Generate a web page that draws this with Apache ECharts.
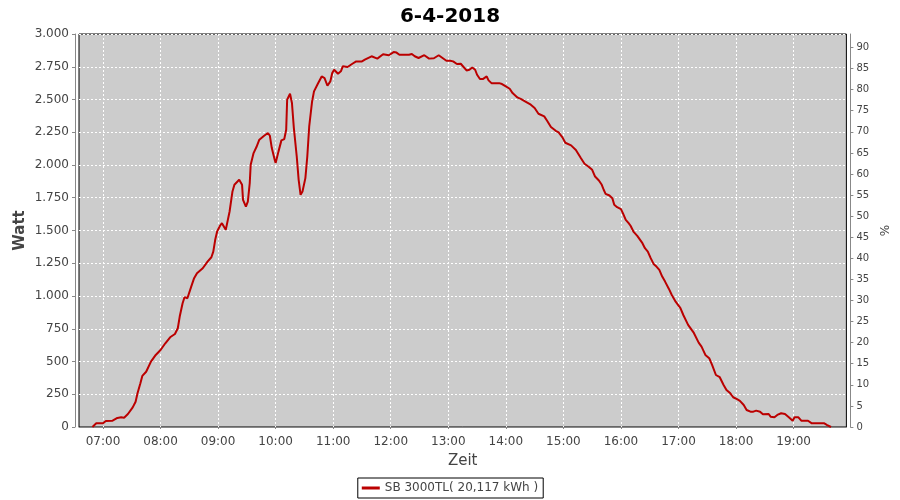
<!DOCTYPE html>
<html>
<head>
<meta charset="utf-8">
<script src="https://cdn.jsdelivr.net/npm/echarts@6/dist/echarts.min.js"></script>
<style>
html,body{margin:0;padding:0;background:#fff;}
#chart{width:900px;height:500px;}
</style>
</head>
<body>
<div id="chart"></div>
<script>
const title = '6-4-2018';
const seriesName = 'SB 3000TL( 20,117 kWh )';
const times = ['06:49','06:53','07:00','07:03','07:10','07:15','07:19','07:22','07:26','07:31','07:34','07:36','07:39','07:41','07:45','07:50','07:55','08:00','08:05','08:10','08:15','08:18','08:20','08:23','08:25','08:28','08:30','08:32','08:35','08:38','08:44','08:49','08:53','08:55','08:57','08:59','09:02','09:04','09:08','09:10','09:12','09:15','09:17','09:19','09:22','09:25','09:26','09:29','09:31','09:33','09:34','09:37','09:40','09:43','09:48','09:52','09:54','09:56','09:59','10:00','10:03','10:06','10:09','10:11','10:12','10:15','10:17','10:19','10:22','10:24','10:26','10:28','10:31','10:33','10:35','10:38','10:40','10:44','10:48','10:51','10:54','10:57','10:59','11:01','11:05','11:08','11:10','11:15','11:20','11:24','11:30','11:33','11:40','11:46','11:52','11:58','12:03','12:06','12:09','12:19','12:22','12:25','12:29','12:35','12:40','12:45','12:50','12:54','12:58','13:02','13:05','13:09','13:13','13:15','13:19','13:22','13:25','13:28','13:30','13:33','13:36','13:40','13:42','13:45','13:53','13:56','14:00','14:04','14:07','14:12','14:16','14:20','14:26','14:30','14:34','14:40','14:43','14:47','14:52','14:55','14:59','15:02','15:08','15:13','15:18','15:22','15:26','15:30','15:33','15:37','15:40','15:42','15:44','15:48','15:51','15:53','15:56','16:00','16:02','16:05','16:08','16:10','16:13','16:17','16:19','16:22','16:25','16:28','16:31','16:34','16:37','16:40','16:43','16:46','16:50','16:53','16:57','16:59','17:02','17:05','17:10','17:16','17:21','17:24','17:28','17:32','17:35','17:39','17:43','17:47','17:50','17:54','17:57','18:01','18:04','18:08','18:11','18:15','18:18','18:21','18:25','18:28','18:34','18:36','18:40','18:43','18:47','18:51','18:55','18:59','19:01','19:05','19:08','19:15','19:19','19:32','19:35','19:39'];
const watts = [0,28,28,46,48,69,74,71,99,150,193,257,334,390,422,499,550,588,639,685,710,754,843,945,991,983,991,1072,1136,1174,1212,1263,1296,1339,1429,1492,1536,1556,1505,1518,1645,1798,1849,1857,1887,1849,1734,1683,1721,1862,2002,2091,2137,2193,2223,2244,2223,2129,2040,2015,2104,2188,2198,2269,2498,2544,2473,2282,2065,1887,1772,1798,1900,2065,2294,2485,2562,2620,2676,2663,2605,2638,2702,2727,2697,2715,2753,2748,2773,2791,2791,2804,2830,2812,2845,2838,2862,2858,2842,2842,2847,2830,2817,2838,2812,2815,2838,2817,2796,2796,2791,2771,2773,2758,2722,2727,2745,2727,2689,2656,2656,2676,2646,2625,2625,2618,2600,2582,2549,2516,2503,2485,2460,2435,2391,2371,2338,2290,2261,2249,2211,2170,2150,2115,2055,2010,1989,1963,1912,1882,1849,1811,1780,1767,1747,1696,1678,1663,1633,1581,1556,1536,1492,1459,1446,1408,1365,1339,1289,1245,1225,1199,1148,1110,1054,1008,957,945,907,855,780,718,644,613,550,525,474,397,380,321,283,257,227,212,199,168,130,117,117,125,117,97,99,79,74,92,105,99,74,48,74,74,48,48,28,28,15,0];
const xTickLabels = ['07:00','08:00','09:00','10:00','11:00','12:00','13:00','14:00','15:00','16:00','17:00','18:00','19:00'];
const xRange = ['06:35','19:55'];
const leftTicks = [0,250,500,750,1000,1250,1500,1750,2000,2250,2500,2750,3000];
const rightTicks = [0,5,10,15,20,25,30,35,40,45,50,55,60,65,70,75,80,85,90];
const rightMax = 93.2;

function toMin(s){const p=s.split(':');return (+p[0])*60+(+p[1]);}
function fmtTime(m){const h=Math.floor(m/60),mm=Math.round(m%60);return (h<10?'0':'')+h+':'+(mm<10?'0':'')+mm;}
function fmtDe(v){return String(Math.round(v)).replace(/\B(?=(\d{3})+(?!\d))/g,'.');}

const data = times.map((t,i)=>[toMin(t),watts[i]]);
const xTicks = xTickLabels.map(toMin);
const font = 'DejaVu Sans';
const chart = echarts.init(document.getElementById('chart'));
chart.setOption({
  animation:false,
  backgroundColor:'#ffffff',
  textStyle:{fontFamily:font},
  title:{text:title,left:'center',top:2,textStyle:{fontFamily:font,fontSize:20,fontWeight:'bold',color:'#000'}},
  grid:{left:79,right:52,top:34,bottom:73,show:true,backgroundColor:'#cccccc',borderColor:'#000',borderWidth:1},
  legend:{bottom:2,left:'center',data:[seriesName],borderColor:'#000',borderWidth:1,borderRadius:0,padding:[4,5,4,4],
    itemWidth:18,itemHeight:3,itemGap:4,icon:'rect',
    textStyle:{fontFamily:font,fontSize:12,color:'#444'}},
  xAxis:{type:'value',min:toMin(xRange[0]),max:toMin(xRange[1]),offset:4,
    name:'Zeit',nameLocation:'middle',nameGap:23,nameTextStyle:{fontFamily:font,fontSize:15,color:'#444'},
    axisLine:{show:true,lineStyle:{color:'#888'}},
    axisTick:{show:true,length:2,customValues:xTicks,lineStyle:{color:'#888'}},
    axisLabel:{customValues:xTicks,formatter:v=>fmtTime(v),fontFamily:font,fontSize:12,color:'#444',margin:5},
    splitLine:{show:true,lineStyle:{color:'#ffffff',type:[2,2],width:1}}},
  yAxis:[{type:'value',min:0,max:3000,interval:250,offset:4,position:'left',
    name:'Watt',nameLocation:'middle',nameGap:47,nameRotate:90,nameMoveOverlap:false,nameTextStyle:{fontFamily:font,fontSize:15,fontWeight:'bold',color:'#444'},
    axisLine:{show:true,lineStyle:{color:'#888'}},
    axisTick:{show:true,length:3,lineStyle:{color:'#888'}},
    axisLabel:{formatter:v=>fmtDe(v),fontFamily:font,fontSize:12,color:'#444',margin:6},
    splitLine:{show:true,lineStyle:{color:'#ffffff',type:[2,2],width:1}}},
   {type:'value',min:0,max:rightMax,offset:4,position:'right',
    name:'%',nameLocation:'middle',nameGap:25,nameRotate:90,nameTextStyle:{fontFamily:font,fontSize:12,color:'#444'},
    axisLine:{show:true,lineStyle:{color:'#888'}},
    axisTick:{show:true,length:3,customValues:rightTicks,lineStyle:{color:'#888'}},
    axisLabel:{customValues:rightTicks,fontFamily:font,fontSize:10,color:'#444',margin:6},
    splitLine:{show:false}}],
  series:[{name:seriesName,type:'line',data:data,yAxisIndex:0,showSymbol:false,symbol:'none',
    lineStyle:{color:'#bb0000',width:2},itemStyle:{color:'#bb0000'}}]
});
</script>
</body>
</html>
